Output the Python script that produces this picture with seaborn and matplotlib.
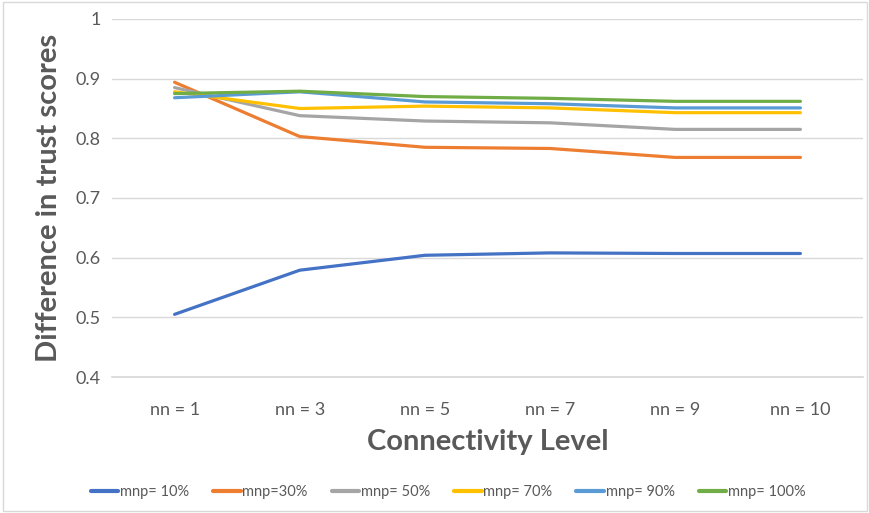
import matplotlib
matplotlib.use("Agg")
import matplotlib.pyplot as plt
import seaborn as sns
import pandas as pd
from matplotlib.patches import Rectangle

# Connectivity levels on the category axis
levels = ["nn = 1", "nn = 3", "nn = 5", "nn = 7", "nn = 9", "nn = 10"]

# Difference in trust scores per malicious-node percentage
mnp_10 = [0.505, 0.579, 0.604, 0.608, 0.607, 0.607]
mnp_30 = [0.894, 0.803, 0.785, 0.783, 0.768, 0.768]
mnp_50 = [0.885, 0.838, 0.829, 0.826, 0.815, 0.815]
mnp_70 = [0.878, 0.850, 0.854, 0.851, 0.843, 0.843]
mnp_90 = [0.868, 0.878, 0.861, 0.858, 0.851, 0.851]
mnp_100 = [0.875, 0.879, 0.870, 0.867, 0.862, 0.862]

series_names = ["mnp= 10%", "mnp=30%", "mnp= 50%", "mnp= 70%", "mnp= 90%", "mnp= 100%"]
series_values = [mnp_10, mnp_30, mnp_50, mnp_70, mnp_90, mnp_100]
colors = ["#4472C4", "#ED7D31", "#A5A5A5", "#FFC000", "#5B9BD5", "#70AD47"]

rows = []
for name, vals in zip(series_names, series_values):
    for lvl, v in zip(levels, vals):
        rows.append({"level": lvl, "value": v, "series": name})
df = pd.DataFrame(rows)

sns.set_theme(style="white")
plt.rcParams["font.family"] = ["Lato", "DejaVu Sans"]

fig = plt.figure(figsize=(8.7, 5.13), dpi=100)
ax = fig.add_axes([112 / 870, 1 - 377 / 513, (863 - 112) / 870, (377 - 19) / 513])

sns.lineplot(data=df, x="level", y="value", hue="series", hue_order=series_names,
             palette=colors, sort=False, linewidth=2.3, ax=ax, legend=False)

ax.set_xlim(-0.5, 5.5)
ax.set_ylim(0.4, 1.0)
ax.set_yticks([0.4, 0.5, 0.6, 0.7, 0.8, 0.9, 1.0])
ax.set_yticklabels(["0.4", "0.5", "0.6", "0.7", "0.8", "0.9", "1"])
ax.grid(axis="y", color="#D9D9D9", linewidth=1)
ax.set_axisbelow(True)
for s in ["top", "right", "left"]:
    ax.spines[s].set_visible(False)
ax.spines["bottom"].set_color("#D9D9D9")
ax.tick_params(axis="both", length=0, labelsize=13, colors="#595959", pad=8)
ax.tick_params(axis="x", pad=18)

ax.set_xlabel("Connectivity Level", fontsize=21, fontweight="bold", color="#595959", labelpad=8)
ax.set_ylabel("Difference in trust scores", fontsize=21, fontweight="bold", color="#595959", labelpad=10)

handles = [plt.Line2D([], [], color=c, linewidth=3) for c in colors]
fig.legend(handles, series_names, loc="center", bbox_to_anchor=(0.515, 1 - 492 / 513),
           ncol=6, frameon=False, fontsize=10.5, handlelength=1.9, handletextpad=0.1,
           columnspacing=1.65, labelcolor="#595959")

fig.add_artist(Rectangle((0.003, 0.004), 0.994, 0.992, transform=fig.transFigure,
                         fill=False, edgecolor="#D9D9D9", linewidth=1))

fig.savefig("out.png", dpi=100, facecolor="white")
